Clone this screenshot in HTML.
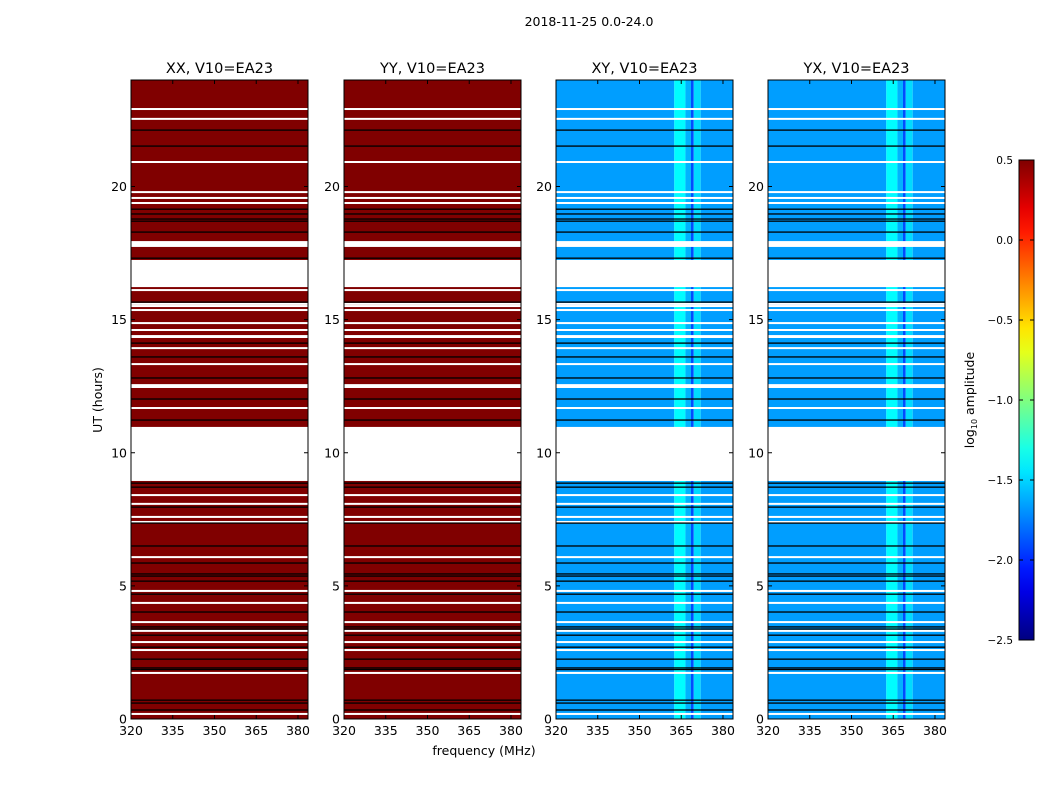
<!DOCTYPE html>
<html><head><meta charset="utf-8"><style>
body{margin:0;background:#fff}
svg text{font-family:"DejaVu Sans","Liberation Sans",sans-serif;fill:#000}
</style></head><body>
<svg id="fig" width="1050" height="800" viewBox="0 0 1050 800" xmlns="http://www.w3.org/2000/svg">
<rect width="1050" height="800" fill="#fff"/>
<text x="589" y="26" font-size="12.5" text-anchor="middle">2018-11-25 0.0-24.0</text>
<text x="102" y="400" font-size="12.5" text-anchor="middle" transform="rotate(-90 102 400)">UT (hours)</text>
<text x="484" y="755" font-size="12.5" text-anchor="middle">frequency (MHz)</text>
<g id="panels"></g>
<g id="cbar"></g>
</svg>
<script>
const panelTitles = ["XX, V10=EA23","YY, V10=EA23","XY, V10=EA23","YX, V10=EA23"];
const panelKinds = ["auto","auto","cross","cross"];
const hourTicks = [0,5,10,15,20];
const freqTicks = [320,335,350,365,380];
const flagGaps = [[8.94,10.97],[16.23,17.24],[17.73,17.95],[14.31,14.42]];
const whiteLines = [22.91,22.54,20.92,19.79,19.57,19.38,16.26,16.11,15.59,15.51,15.36,14.87,14.61,13.93,13.33,12.54,12.47,11.68,8.41,8.08,7.59,7.40,6.08,4.81,4.36,3.64,3.31,2.89,2.59,1.73,0.19];
const blackLines = [22.12,21.52,19.15,18.97,18.78,18.70,18.29,17.31,15.66,14.12,13.60,12.81,12.02,11.23,8.86,8.71,7.96,7.36,6.50,5.86,5.45,5.37,5.18,4.69,4.02,3.46,3.38,3.15,2.70,2.25,1.92,1.86,0.71,0.60,0.34];
const autoValue = [0.5];
const crossFreqEdges = [320,362.5,366.5,368.5,369.5,372,383.6];
const crossFreqValues = [-1.66,-1.38,-1.6,-1.9,-1.48,-1.66];
const cbarTicks = [0.5,0.0,-0.5,-1.0,-1.5,-2.0,-2.5];
const cbarLabels = ["0.5","0.0","\u22120.5","\u22121.0","\u22121.5","\u22122.0","\u22122.5"];

const NS="http://www.w3.org/2000/svg";
const panelX=[131,344,556,768], PW=177, PT=80, PB=719;
const fMin=320,fMax=383.6,hMin=0,hMax=24,vMin=-2.5,vMax=0.5;
function yH(h){return PB-(h-hMin)/(hMax-hMin)*(PB-PT);}
function jet(v){let t=(v-vMin)/(vMax-vMin);t=Math.max(0,Math.min(1,t));
 const c=x=>Math.round(255*Math.max(0,Math.min(1,x)));
 return `rgb(${c(1.5-Math.abs(4*t-3))},${c(1.5-Math.abs(4*t-2))},${c(1.5-Math.abs(4*t-1))})`;}
function mk(tag,attrs,parent){const e=document.createElementNS(NS,tag);for(const k in attrs)e.setAttribute(k,attrs[k]);parent.appendChild(e);return e;}
const G=document.getElementById('panels');
panelX.forEach((x0,i)=>{
 const xF=f=>x0+(f-fMin)/(fMax-fMin)*PW;
 const g=mk('g',{},G);
 
 
 if(panelKinds[i]==='auto'){
  const r=mk('rect',{x:x0,y:PT,width:PW,height:PB-PT,fill:jet(autoValue[0])},g);
  
  
 } else {
  for(let k=0;k<crossFreqValues.length;k++){
   const r=mk('rect',{x:xF(crossFreqEdges[k]),y:PT,width:xF(crossFreqEdges[k+1])-xF(crossFreqEdges[k]),height:PB-PT,fill:jet(crossFreqValues[k])},g);
   
   
  }
 }
 flagGaps.forEach(gp=>{const r=mk('rect',{x:x0,y:yH(gp[1]),width:PW,height:yH(gp[0])-yH(gp[1]),fill:'#fff'},g);
  
  });
 whiteLines.forEach(h=>{const r=mk('rect',{x:x0,y:yH(h)-1,width:PW,height:2,fill:'#fff'},g);
  
  });
 blackLines.forEach(h=>{const r=mk('rect',{x:x0,y:yH(h)-0.6,width:PW,height:1.3,fill:'#000'},g);
  
  });
 const fr=mk('rect',{x:x0,y:PT,width:PW,height:PB-PT,fill:'none',stroke:'#000','stroke-width':1},g);
 
 
 const t=mk('text',{x:x0+PW/2,y:PT-7,'font-size':14.5,'text-anchor':'middle'},g);t.textContent=panelTitles[i];
 
 
 hourTicks.forEach(h=>{const y=yH(h);
  mk('line',{x1:x0,x2:x0+4,y1:y,y2:y,stroke:'#000'},g);mk('line',{x1:x0+PW-4,x2:x0+PW,y1:y,y2:y,stroke:'#000'},g);
  const l=mk('text',{x:x0-4,y:y+4.5,'font-size':12.5,'text-anchor':'end'},g);l.textContent=h;
  
  });
 freqTicks.forEach(f=>{const x=xF(f);
  mk('line',{x1:x,x2:x,y1:PB,y2:PB-4,stroke:'#000'},g);mk('line',{x1:x,x2:x,y1:PT,y2:PT+4,stroke:'#000'},g);
  const l=mk('text',{x:x,y:PB+16,'font-size':12.5,'text-anchor':'middle'},g);l.textContent=f;
  
  });
});
const C=document.getElementById('cbar');
const cx=1019,cw=15,cT=160,cB=640;
const yV=v=>cB-(v-vMin)/(vMax-vMin)*(cB-cT);
const defs=mk('defs',{},C);const lg=mk('linearGradient',{id:'jetg',x1:0,y1:1,x2:0,y2:0},defs);
for(let s=0;s<=20;s++){const v=vMin+(vMax-vMin)*s/20;mk('stop',{offset:s/20,'stop-color':jet(v)},lg);}
const cr=mk('rect',{x:cx,y:cT,width:cw,height:cB-cT,fill:'url(#jetg)',stroke:'#000','stroke-width':1},C);


cbarTicks.forEach((v,k)=>{const y=yV(v);
 mk('line',{x1:cx,x2:cx+4,y1:y,y2:y,stroke:'#000'},C);mk('line',{x1:cx+cw-4,x2:cx+cw,y1:y,y2:y,stroke:'#000'},C);
 const l=mk('text',{x:cx-6,y:y+4,'font-size':10.5,'text-anchor':'end'},C);l.textContent=cbarLabels[k];
 
 });
const cl=mk('text',{x:974,y:400,'font-size':12.5,'text-anchor':'middle',transform:'rotate(-90 974 400)'},C);
cl.innerHTML='log<tspan font-size="8" dy="3">10</tspan><tspan dy="-3"> amplitude</tspan>';


</script>
</body></html>
